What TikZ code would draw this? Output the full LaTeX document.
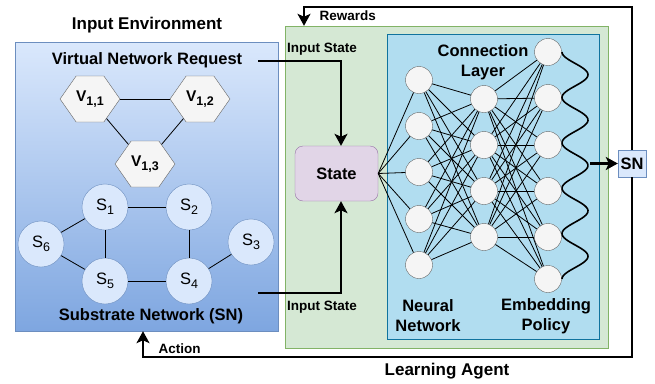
\documentclass[tikz,border=0pt]{standalone}
\usepackage{fontspec}
\setmainfont{Liberation Sans}
\usetikzlibrary{arrows.meta,shapes.geometric,shapes.symbols,positioning}

\definecolor{envtop}{HTML}{DAE8FC}
\definecolor{envbot}{HTML}{7EA6E0}
\definecolor{envline}{HTML}{6C8EBF}
\definecolor{agentfill}{HTML}{D5E8D4}
\definecolor{agentline}{HTML}{82B366}
\definecolor{nnfill}{HTML}{B1DDF0}
\definecolor{nnline}{HTML}{10739E}
\definecolor{statefill}{HTML}{E1D5E7}
\definecolor{stateline}{HTML}{9673A6}
\definecolor{cellfill}{HTML}{F5F5F5}
\definecolor{cellline}{HTML}{666666}

\newcommand{\bigtxt}{\fontsize{16.5}{20}\selectfont\bfseries}
\newcommand{\smalltxt}{\fontsize{13.5}{16}\selectfont\bfseries}
\newcommand{\lowidx}[1]{\raisebox{-4pt}{\fontsize{12.5}{14}\selectfont #1}}

\begin{document}
\begin{tikzpicture}[x=1pt,y=-1pt,
    envbox/.style={draw=envline,top color=envtop,bottom color=envbot,minimum width=263pt,minimum height=289pt,inner sep=0pt},
    agentbox/.style={draw=agentline,fill=agentfill,minimum width=323pt,minimum height=322pt,inner sep=0pt},
    nnbox/.style={draw=nnline,fill=nnfill,minimum width=212pt,minimum height=305pt,inner sep=0pt},
    statebox/.style={draw=stateline,fill=statefill,rounded corners=8pt,minimum width=83pt,minimum height=55pt,font=\bigtxt},
    snbox/.style={draw=envline,fill=envtop,minimum width=28pt,minimum height=27pt,inner sep=0pt,font=\bigtxt},
    vnode/.style={signal,signal to=west and east,signal pointer angle=110,draw=cellline,fill=cellfill,minimum width=59pt,minimum height=46pt,inner sep=0pt,font=\fontsize{15.5}{18}\selectfont\bfseries},
    snode/.style={circle,draw=envline,fill=envtop,minimum size=46pt,inner sep=0pt,font=\fontsize{16.5}{18}\selectfont},
    neuron/.style={circle,draw=cellline,fill=cellfill,minimum size=27pt,inner sep=0pt},
    thinline/.style={line width=0.8pt},
    thickarrow/.style={line width=2.8pt,-{Stealth[length=12pt,width=13pt,inset=3pt]}},
    wave/.style={line width=1.6pt}
  ]
  \useasboundingbox (0,0) rectangle (655,383);

  % Input environment
  \node[envbox] (env) at (146.5,186.5) {};
  \node[font=\fontsize{17}{20}\selectfont\bfseries] (envtitle) at (147,25) {Input Environment};
  \node[font=\bigtxt] (vnr) at (147,60) {Virtual Network Request};
  \node[font=\bigtxt] (sntitle) at (151,316) {Substrate Network (SN)};

  % Virtual network request
  \node[vnode] (v11) at (90,99) {V\lowidx{\bfseries 1,1}};
  \node[vnode] (v12) at (200,99) {V\lowidx{\bfseries 1,2}};
  \node[vnode] (v13) at (145,164) {V\lowidx{\bfseries 1,3}};
  \draw[thinline] (v11) -- (v12);
  \draw[thinline] (v11) -- (v13);
  \draw[thinline] (v12) -- (v13);

  % Substrate network
  \node[snode] (s1) at (105,207) {S\lowidx{1}};
  \node[snode] (s2) at (189,207) {S\lowidx{2}};
  \node[snode] (s3) at (251,242) {S\lowidx{3}};
  \node[snode] (s4) at (189,281) {S\lowidx{4}};
  \node[snode] (s5) at (105,281) {S\lowidx{5}};
  \node[snode] (s6) at (41,244) {S\lowidx{6}};
  \foreach \a/\b in {s1/s2,s1/s6,s1/s5,s2/s4,s6/s5,s5/s4,s4/s3}
    \draw[thinline] (\a) -- (\b);

  % Learning agent
  \node[agentbox] (agent) at (446.5,187) {};
  \node[nnbox] (nn) at (493,186.5) {};
  \node[font=\fontsize{17}{20}\selectfont\bfseries] (agenttitle) at (447,371) {Learning Agent};
  \node[statebox] (state) at (336.5,173.5) {State};
  \node[font=\bigtxt,align=center] (connlabel) at (483,62) {Connection\\Layer};
  \node[font=\bigtxt,align=center] (nnlabel) at (428,316) {Neural\\Network};
  \node[font=\bigtxt,align=center] (emblabel) at (546,316) {Embedding\\Policy};

  % Neurons
  \foreach \i/\y in {1/80,2/126,3/172,4/219,5/265}
    \node[neuron] (a\i) at (419,\y) {};
  \foreach \i/\y in {1/99,2/145,3/191,4/237}
    \node[neuron] (b\i) at (484,\y) {};
  \foreach \i/\y in {1/52,2/98,3/145,4/191,5/237,6/279}
    \node[neuron] (c\i) at (548,\y) {};
  \foreach \i in {1,...,5}
    \draw[thinline] (state.east) -- (a\i);
  \foreach \i in {1,...,5}
    \foreach \j in {1,...,4}
      \draw[thinline] (a\i) -- (b\j);
  \foreach \j in {1,...,4}
    \foreach \k in {1,...,6}
      \draw[thinline] (b\j) -- (c\k);
  \draw[wave] plot[domain=52:279,samples=150] ({575-13*cos(7.93*(\x-52))},\x);

  % Output and feedback
  \node[snbox] (sn) at (632,163.5) {SN};
  \coordinate (waveout) at (590,163.5);
  \draw[thickarrow] (waveout) -- (sn.west);
  \coordinate (rewtop) at (304,7);
  \draw[thickarrow] (sn.north) |- (rewtop) -- (rewtop |- agent.north);
  \node[font=\smalltxt,anchor=west] (rewlabel) at (316,16) {Rewards};
  \coordinate (actbot) at (143,357);
  \draw[thickarrow] (sn.south) |- (actbot) -- (actbot |- env.south);
  \node[font=\smalltxt,anchor=west] (actlabel) at (155,349) {Action};

  % Input state
  \coordinate (vnrout) at (258,61);
  \coordinate (snout) at (258,293);
  \draw[thickarrow] (vnrout) -| ([xshift=4.5pt]state.north);
  \draw[thickarrow] (snout) -| ([xshift=4.5pt]state.south);
  \node[font=\smalltxt] (instate1) at (322,49) {Input State};
  \node[font=\smalltxt] (instate2) at (322,307) {Input State};
\end{tikzpicture}
\end{document}
